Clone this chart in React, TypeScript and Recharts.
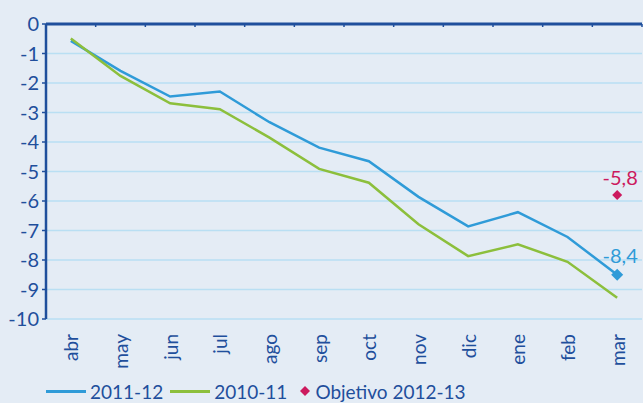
import {
  ComposedChart,
  Line,
  XAxis,
  YAxis,
  CartesianGrid,
  Legend,
} from "recharts";

const months = ["abr", "may", "jun", "jul", "ago", "sep", "oct", "nov", "dic", "ene", "feb", "mar"];
const serie2011 = [-0.57, -1.59, -2.46, -2.29, -3.33, -4.19, -4.65, -5.86, -6.86, -6.38, -7.22, -8.5];
const serie2010 = [-0.49, -1.76, -2.69, -2.89, -3.85, -4.91, -5.38, -6.79, -7.87, -7.47, -8.06, -9.28];
const objetivo = [null, null, null, null, null, null, null, null, null, null, null, -5.8];
const yTicks = [0, -1, -2, -3, -4, -5, -6, -7, -8, -9, -10];
const boundaryTicks = [0, 1, 2, 3, 4, 5, 6, 7, 8, 9, 10, 11, 12];

const BLUE = "#2f9bd8";
const GREEN = "#8cbf3c";
const MAGENTA = "#cc1a5e";
const NAVY = "#1f4f9c";
const FONT = "Lato, 'Open Sans', sans-serif";

const data = months.map((m, i) => ({
  month: m,
  pos: i + 0.5,
  s2011: serie2011[i],
  s2010: serie2010[i],
  objetivo: objetivo[i],
}));

const fmt = (v: number) => v.toFixed(1).replace(".", ",");

function Diamond({ cx, cy, r, fill }: { cx: number; cy: number; r: number; fill: string }) {
  return <path d={`M${cx},${cy - r}L${cx + r},${cy}L${cx},${cy + r}L${cx - r},${cy}Z`} fill={fill} />;
}

const lastDot = (color: string, size: number, gap: number, labelText?: string) => (props: any) => {
  const { cx, cy, index, value } = props;
  if (value == null || index !== months.length - 1) return <g key={index} />;
  return (
    <g key={index}>
      <Diamond cx={cx} cy={cy} r={size} fill={color} />
      <text x={cx + 3} y={cy - gap} textAnchor="middle" fill={color} fontSize={20} fontFamily={FONT}>
        {labelText ?? fmt(value)}
      </text>
    </g>
  );
};

const MonthTick = (props: any) => {
  const { x, y, payload } = props;
  return (
    <text
      x={x}
      y={y}
      transform={`rotate(-90, ${x}, ${y})`}
      textAnchor="end"
      dominantBaseline="central"
      fill={NAVY}
      fontSize={19}
      fontFamily={FONT}
    >
      {payload.value}
    </text>
  );
};

const LegendContent = () => (
  <div
    style={{
      display: "flex",
      alignItems: "center",
      paddingLeft: 46,
      height: 32,
      paddingTop: 8,
      boxSizing: "border-box",
      fontFamily: FONT,
      fontSize: 19,
      color: NAVY,
    }}
  >
    <span style={{ width: 40, height: 3, background: BLUE, marginRight: 4 }} />
    <span style={{ marginRight: 7 }}>2011-12</span>
    <span style={{ width: 40, height: 3, background: GREEN, marginRight: 4 }} />
    <span style={{ marginRight: 12 }}>2010-11</span>
    <svg width={12} height={12} style={{ marginRight: 4 }}>
      <Diamond cx={6} cy={6} r={5} fill={MAGENTA} />
    </svg>
    <span>Objetivo 2012-13</span>
  </div>
);

export default function App() {
  return (
    <div style={{ position: "fixed", left: 0, top: 0, width: 643, height: 403, background: "#e4ecf5" }}>
      <ComposedChart width={643} height={403} data={data} margin={{ top: 24, right: 1, bottom: 0, left: 0 }}>
        <CartesianGrid vertical={false} stroke="#b9dff3" strokeWidth={1.5} />
        <XAxis
          dataKey="month"
          scale="band"
          height={52}
          axisLine={false}
          tickLine={false}
          tick={<MonthTick />}
          tickMargin={9}
          interval={0}
        />
        <XAxis
          xAxisId="top"
          dataKey="pos"
          orientation="top"
          type="number"
          domain={[0, 12]}
          ticks={boundaryTicks}
          interval={0}
          height={1}
          mirror
          tickSize={3}
          axisLine={{ stroke: NAVY, strokeWidth: 3 }}
          tickLine={{ stroke: NAVY, strokeWidth: 1.5 }}
          tick={{ fontSize: 0 }}
          tickFormatter={() => ""}
        />
        <YAxis
          width={46}
          domain={[-10, 0]}
          ticks={yTicks}
          interval={0}
          tickSize={4}
          tickMargin={3}
          axisLine={{ stroke: NAVY, strokeWidth: 2.5 }}
          tickLine={{ stroke: NAVY, strokeWidth: 1.5 }}
          tick={{ fill: NAVY, fontSize: 20, fontFamily: FONT }}
        />
        <Legend verticalAlign="bottom" align="left" height={32} content={<LegendContent />} />
        <Line
          xAxisId="top"
          dataKey="s2010"
          stroke="none"
          dot={false}
          activeDot={false}
          legendType="none"
          isAnimationActive={false}
        />
        <Line
          dataKey="s2011"
          stroke={BLUE}
          strokeWidth={2.5}
          dot={lastDot(BLUE, 6, 12, "-8,4")}
          activeDot={false}
          isAnimationActive={false}
        />
        <Line
          dataKey="s2010"
          stroke={GREEN}
          strokeWidth={2.5}
          dot={false}
          activeDot={false}
          isAnimationActive={false}
        />
        <Line
          dataKey="objetivo"
          stroke="none"
          dot={lastDot(MAGENTA, 5, 10)}
          activeDot={false}
          isAnimationActive={false}
        />
      </ComposedChart>
    </div>
  );
}
